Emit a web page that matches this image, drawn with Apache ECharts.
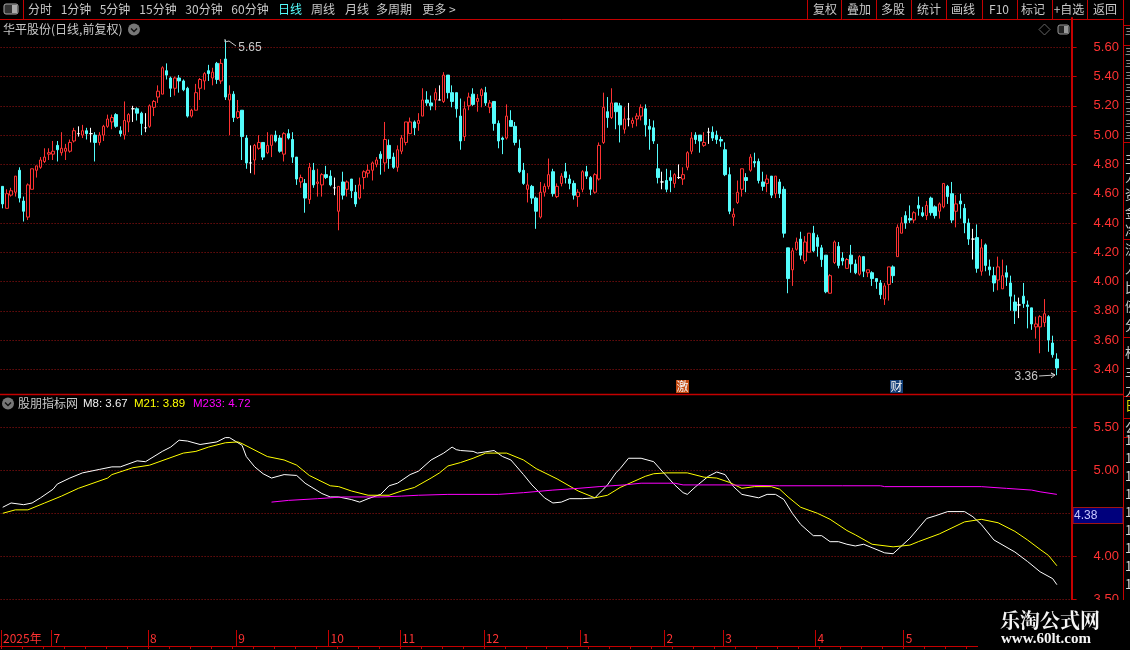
<!DOCTYPE html>
<html><head><meta charset="utf-8">
<style>html,body{margin:0;padding:0;background:#000}#c{width:1130px;height:650px}</style>
<script src="https://cdn.jsdelivr.net/npm/echarts@6/dist/echarts.min.js"></script>
</head><body><div id="c"></div>
<script>
const opens=[4.65,4.50,4.59,4.61,4.76,4.55,4.44,4.63,4.76,4.78,
4.82,4.87,4.87,4.93,4.88,4.89,4.89,4.96,5.01,5.00,
5.03,5.01,5.00,4.95,5.00,5.06,5.09,5.14,5.03,5.00,
5.09,5.18,5.18,5.15,5.05,5.06,5.19,5.26,5.28,5.44,
5.39,5.32,5.39,5.37,5.32,5.13,5.17,5.32,5.37,5.44,
5.39,5.49,5.37,5.52,5.24,5.28,5.12,5.17,4.98,4.81,
4.83,4.91,4.95,4.88,4.93,5.00,4.98,4.87,5.01,4.97,
4.85,4.68,4.67,4.56,4.76,4.67,4.66,4.73,4.72,4.64,
4.48,4.68,4.63,4.70,4.61,4.57,4.71,4.74,4.76,4.80,
4.87,4.81,4.93,4.85,4.78,4.89,4.95,5.01,5.09,5.08,
5.13,5.24,5.22,5.24,5.24,5.23,5.41,5.29,5.29,5.13,
4.99,5.20,5.28,5.23,5.27,5.29,5.19,5.23,5.08,4.98,
4.98,5.10,5.06,4.91,4.76,4.63,4.65,4.57,4.44,4.61,
4.65,4.75,4.58,4.67,4.75,4.70,4.67,4.58,4.63,4.75,
4.71,4.61,4.70,4.95,5.16,5.12,5.22,5.20,5.04,5.11,
5.08,5.11,5.13,5.18,5.06,5.05,4.77,4.68,4.69,4.71,
4.67,4.71,4.70,4.78,4.89,5.00,5.00,4.93,5.02,5.02,
5.00,4.97,4.90,4.73,4.44,4.54,4.63,4.71,4.76,4.82,
4.82,4.68,4.67,4.72,4.60,4.68,4.63,4.23,4.08,4.22,
4.29,4.14,4.20,4.33,4.30,4.23,4.18,3.92,4.13,4.24,
4.16,4.09,4.18,4.12,4.05,4.17,4.06,4.06,4.02,3.99,
3.88,3.98,4.10,4.17,4.33,4.45,4.43,4.42,4.52,4.47,
4.45,4.57,4.51,4.48,4.51,4.65,4.60,4.48,4.55,4.50,
4.40,4.29,4.30,4.07,4.25,4.10,4.04,4.01,3.95,4.06,
3.99,3.86,3.84,3.90,3.84,3.82,3.69,3.69,3.72,3.76,3.58,3.47];
const closes=[4.53,4.60,4.62,4.72,4.57,4.48,4.66,4.77,4.79,4.83,
4.85,4.88,4.89,4.90,4.91,4.91,4.95,5.03,5.01,5.03,
5.01,5.01,4.95,5.00,5.06,5.11,5.12,5.06,5.01,5.10,
5.14,5.18,5.15,5.08,5.05,5.20,5.23,5.30,5.46,5.41,
5.32,5.39,5.37,5.31,5.13,5.17,5.29,5.38,5.42,5.42,
5.43,5.38,5.49,5.26,5.28,5.12,5.16,4.99,4.81,4.81,
4.93,4.95,4.85,4.93,5.00,4.96,4.89,5.01,4.98,4.85,
4.70,4.71,4.57,4.78,4.66,4.68,4.73,4.71,4.66,4.64,
4.65,4.59,4.68,4.62,4.53,4.66,4.75,4.76,4.81,4.83,
4.84,4.97,4.84,4.78,4.90,4.98,5.09,5.09,5.05,5.10,
5.24,5.22,5.20,5.29,5.24,5.41,5.29,5.23,5.18,4.96,
5.18,5.26,5.21,5.25,5.31,5.22,5.22,5.08,4.96,4.97,
5.13,5.06,4.95,4.75,4.67,4.66,4.57,4.48,4.61,4.65,
4.73,4.60,4.65,4.72,4.71,4.67,4.59,4.61,4.75,4.72,
4.63,4.73,4.93,5.19,5.12,5.22,5.16,5.07,5.11,5.11,
5.10,5.13,5.19,5.07,5.04,4.96,4.71,4.68,4.63,4.69,
4.73,4.71,4.73,4.88,4.98,4.97,4.96,4.95,5.02,4.98,
4.97,4.96,4.73,4.48,4.46,4.61,4.77,4.69,4.85,4.81,
4.69,4.65,4.70,4.59,4.72,4.60,4.33,4.02,4.21,4.27,
4.18,4.27,4.33,4.21,4.24,4.15,3.93,4.04,4.27,4.11,
4.14,4.15,4.12,4.06,4.17,4.07,4.08,4.02,4.00,3.91,
3.97,4.10,4.04,4.37,4.40,4.40,4.42,4.47,4.50,4.45,
4.52,4.47,4.45,4.53,4.67,4.58,4.42,4.53,4.53,4.40,
4.29,4.29,4.09,4.23,4.11,4.08,3.99,4.10,4.04,4.03,
3.90,3.80,3.84,3.85,3.83,3.71,3.71,3.76,3.78,3.60,3.50,3.41];
const lows=[4.50,4.50,4.58,4.58,4.54,4.41,4.42,4.63,4.71,4.77,
4.81,4.83,4.83,4.82,4.86,4.83,4.88,4.95,4.99,4.98,
4.97,4.95,4.82,4.93,4.96,5.05,5.04,5.05,4.99,4.97,
5.02,5.09,5.10,5.00,5.02,5.05,5.13,5.22,5.28,5.38,
5.26,5.27,5.29,5.30,5.12,5.12,5.17,5.24,5.31,5.37,
5.34,5.35,5.35,5.24,5.00,5.09,5.11,4.83,4.77,4.74,
4.73,4.90,4.83,4.87,4.85,4.95,4.88,4.82,4.97,4.81,
4.66,4.64,4.47,4.53,4.64,4.58,4.58,4.70,4.65,4.59,
4.35,4.56,4.58,4.57,4.51,4.56,4.63,4.71,4.69,4.78,
4.73,4.75,4.77,4.77,4.75,4.87,4.93,5.01,5.00,5.03,
5.13,5.20,5.17,5.17,5.24,5.22,5.25,5.19,5.12,4.90,
4.96,5.17,5.20,5.16,5.19,5.20,5.15,5.03,4.91,4.87,
4.97,5.06,4.93,4.74,4.66,4.54,4.53,4.36,4.43,4.58,
4.63,4.58,4.57,4.65,4.67,4.63,4.56,4.51,4.61,4.70,
4.59,4.60,4.69,4.94,5.05,5.11,5.04,4.95,5.01,5.06,
5.05,5.06,5.10,4.99,4.90,4.94,4.67,4.63,4.61,4.61,
4.64,4.70,4.66,4.76,4.87,4.94,4.88,4.92,4.94,4.96,
4.94,4.92,4.72,4.46,4.38,4.53,4.58,4.61,4.75,4.78,
4.67,4.62,4.61,4.57,4.57,4.57,4.30,3.92,3.97,4.21,
4.15,4.12,4.20,4.20,4.17,4.10,3.92,3.92,4.12,4.09,
4.11,4.09,4.06,4.05,4.04,4.03,4.03,3.97,3.95,3.88,
3.84,3.87,3.99,4.17,4.33,4.36,4.40,4.40,4.45,4.44,
4.42,4.45,4.43,4.43,4.50,4.53,4.40,4.37,4.43,4.33,
4.25,4.15,4.06,4.04,4.07,4.04,3.93,3.94,3.95,3.97,
3.80,3.71,3.75,3.82,3.68,3.67,3.61,3.51,3.69,3.52,3.48,3.36];
const highs=[4.65,4.63,4.64,4.72,4.78,4.58,4.67,4.77,4.79,4.85,
4.91,4.91,4.96,4.96,5.02,4.94,4.97,5.05,5.06,5.07,
5.05,5.05,5.02,5.02,5.07,5.14,5.14,5.15,5.06,5.23,
5.15,5.20,5.19,5.16,5.15,5.21,5.24,5.34,5.47,5.49,
5.40,5.40,5.41,5.38,5.33,5.18,5.35,5.39,5.43,5.48,
5.46,5.50,5.52,5.65,5.34,5.30,5.24,5.17,5.00,4.93,
4.94,5.00,4.95,5.02,5.00,5.03,5.00,5.02,5.04,5.02,
4.85,4.73,4.70,4.81,4.81,4.77,4.74,4.79,4.76,4.71,
4.65,4.75,4.69,4.70,4.66,4.71,4.76,4.80,4.82,4.85,
4.89,5.09,4.97,4.88,4.93,5.00,5.09,5.12,5.10,5.15,
5.32,5.30,5.27,5.32,5.34,5.43,5.41,5.34,5.29,5.25,
5.23,5.29,5.32,5.28,5.32,5.33,5.24,5.23,5.10,4.99,
5.21,5.17,5.09,4.97,4.81,4.74,4.66,4.58,4.68,4.67,
4.84,4.77,4.67,4.74,4.81,4.73,4.69,4.63,4.76,4.79,
4.72,4.74,4.95,5.29,5.26,5.32,5.22,5.22,5.19,5.22,
5.12,5.15,5.21,5.21,5.11,5.10,4.94,4.75,4.77,4.76,
4.74,4.80,4.78,4.89,5.02,5.02,5.00,5.02,5.05,5.06,
5.03,4.99,4.95,4.78,4.50,4.69,4.77,4.74,4.87,4.88,
4.84,4.75,4.73,4.72,4.72,4.70,4.65,4.23,4.23,4.30,
4.34,4.31,4.33,4.38,4.32,4.25,4.18,4.05,4.28,4.27,
4.20,4.16,4.25,4.15,4.18,4.17,4.08,4.07,4.02,4.01,
3.99,4.10,4.11,4.39,4.44,4.48,4.52,4.48,4.58,4.51,
4.55,4.58,4.52,4.54,4.67,4.66,4.68,4.59,4.60,4.53,
4.43,4.36,4.39,4.29,4.26,4.15,4.10,4.17,4.15,4.11,
4.04,3.91,3.89,3.99,3.87,3.82,3.76,3.77,3.88,3.77,3.63,3.51];

const m8Index=[0,2,5,7,9,12,13,16,19,23,26,28,32,34,38,40,42,44,47,51,53,54,57,58,60,62,64,67,70,72,76,78,80,83,85,87,90,92,94,97,99,102,105,107,108,109,112,113,117,119,121,124,126,129,131,133,135,138,141,144,146,147,149,152,155,157,160,162,163,165,168,170,172,174,176,180,182,184,186,188,190,193,195,197,199,201,203,205,207,210,212,216,220,222,225,229,231,233,236,241,244,247,250,251];
const m8Values=[4.57,4.62,4.60,4.62,4.68,4.78,4.84,4.91,4.97,5.01,5.04,5.04,5.11,5.10,5.22,5.27,5.35,5.34,5.30,5.33,5.38,5.38,5.29,5.16,5.04,4.96,4.91,4.95,4.94,4.85,4.73,4.69,4.69,4.66,4.63,4.67,4.72,4.82,4.85,4.95,4.99,5.12,5.20,5.27,5.24,5.23,5.22,5.20,5.23,5.16,5.12,4.95,4.83,4.68,4.62,4.63,4.67,4.67,4.68,4.83,4.97,5.02,5.14,5.14,5.10,4.99,4.83,4.74,4.72,4.81,4.93,4.98,4.95,4.81,4.72,4.68,4.72,4.72,4.66,4.50,4.37,4.24,4.24,4.17,4.17,4.14,4.12,4.14,4.10,4.04,4.03,4.21,4.44,4.47,4.52,4.52,4.46,4.37,4.19,4.05,3.94,3.82,3.74,3.67];
const m21Index=[0,3,6,10,14,18,25,26,31,35,43,46,49,53,56,57,63,67,70,73,78,80,83,87,92,95,98,102,104,106,109,112,115,120,124,127,132,137,141,144,147,153,155,158,163,167,170,173,176,179,183,185,187,190,194,197,201,203,207,212,216,218,223,229,233,237,241,244,247,249,251];
const m21Values=[4.50,4.54,4.54,4.62,4.70,4.79,4.91,4.95,5.03,5.06,5.20,5.22,5.27,5.32,5.33,5.31,5.16,5.12,5.06,4.94,4.82,4.81,4.76,4.71,4.71,4.76,4.80,4.91,4.97,5.05,5.09,5.14,5.20,5.20,5.12,5.02,4.90,4.76,4.68,4.71,4.80,4.93,4.96,4.97,4.97,4.92,4.91,4.86,4.79,4.81,4.81,4.78,4.69,4.57,4.50,4.43,4.30,4.25,4.14,4.11,4.13,4.17,4.26,4.40,4.43,4.39,4.29,4.19,4.08,4.01,3.89];
const m233Index=[64,68,75,81,90,95,99,106,118,124,131,137,142,148,152,160,162,172,185,200,209,210,233,239,245,247,251];
const m233Values=[4.63,4.65,4.67,4.69,4.69,4.70,4.71,4.72,4.72,4.74,4.77,4.79,4.81,4.83,4.85,4.85,4.83,4.83,4.82,4.82,4.82,4.81,4.81,4.79,4.77,4.75,4.72];

const monthStarts=[0,12,35,56,78,95,115,138,158,172,194,215];
const monthLabels=['2025年','7','8','9','10','11','12','1','2','3','4','5'];
const priceTicks=[3.4,3.6,3.8,4.0,4.2,4.4,4.6,4.8,5.0,5.2,5.4,5.6];
const lowerTicks=[3.5,4.0,4.5,5.0,5.5];
const toolbarLeft=[['分时',40],['1分钟',76],['5分钟',115],['15分钟',158],['30分钟',204],['60分钟',250],['日线',290],['周线',323],['月线',357],['多周期',394],['更多 >',439]];
const toolbarRight=[['复权',825],['叠加',859],['多股',893],['统计',929],['画线',963],['F10',999],['标记',1033],['+自选',1069],['返回',1105]];
const toolbarSeps=[807,841,876,911,946,982,1017,1052,1087];
const sideRows=[158,176,194,212,230,249,268,287,306,325,352,371,390,440,458,476,494,512,530,548,566,584];
const sideMinorRows=[32,52,64,76,88,100,112,124,136];
const sideDividers=[25,45,142,239,337,396,418,437];

const totalBars=255;
const cats=Array.from({length:totalBars},(_,i)=>String(i));
const candle=opens.map((o,i)=>[o,closes[i],lows[i],highs[i]]);
const pairs=(ix,vs)=>ix.map((x,i)=>[x,vs[i]]);

const RED='#ff3232',AX='#c40000',GRID='#a01414',CY='#54fcfc',TXT='#c8c8c8';
const CJK='"Noto Sans CJK SC","Liberation Sans",sans-serif';
const ARIAL='"Liberation Sans",Arial,sans-serif';
const g=[];
const line=(x1,y1,x2,y2,c,w)=>g.push({type:'line',z:50,silent:true,shape:{x1,y1,x2,y2},style:{stroke:c||AX,lineWidth:w||1}});
const txt=(x,y,t,c,o)=>g.push({type:'text',z:60,silent:true,x,y,style:Object.assign({text:t,fill:c||TXT,font:'12px '+CJK,textVerticalAlign:'middle',textAlign:'center'},o||{})});

g.push({type:'rect',z:40,silent:true,shape:{x:0,y:600,width:1130,height:29.5},style:{fill:'#000'}});
g.push({type:'rect',z:55,silent:true,shape:{x:978,y:600,width:152,height:50},style:{fill:'#000'}});
txt(1050,620,'乐淘公式网','#f4f4f4',{font:'bold 20px "Noto Serif CJK SC","Noto Sans CJK SC"'});
txt(1046,639.5,'www.60lt.com','#f4f4f4',{font:'bold 15px "Liberation Serif",serif'});
line(0,646.5,978,646.5,AX,1);
line(0,19.5,1123,19.5,AX,1);
line(0,394.5,1123,394.5,AX,1.5);
line(23.5,0,23.5,19,AX,1);
line(1123.5,0,1123.5,600,AX,1);
sideDividers.forEach(y=>line(1123,y+.5,1130,y+.5,AX,1));
toolbarSeps.forEach(x=>line(x+.5,0,x+.5,19,AX,1));
toolbarLeft.forEach(([t,x])=>txt(x,9.5,t,t==='日线'?CY:TXT));
toolbarRight.forEach(([t,x])=>txt(x,9.5,t,TXT));
g.push({type:'rect',z:60,silent:true,shape:{x:4,y:4,width:14,height:10,r:2},style:{fill:'#333',stroke:'#aaa',lineWidth:1}});
g.push({type:'rect',z:61,silent:true,shape:{x:12,y:5,width:5,height:8},style:{fill:'#aaa'}});
g.push({type:'rect',z:60,silent:true,shape:{x:1058,y:25,width:11,height:9,r:2},style:{fill:'#222',stroke:'#999',lineWidth:1}});
g.push({type:'rect',z:61,silent:true,shape:{x:1064,y:26,width:4,height:7},style:{fill:'#999'}});
g.push({type:'polygon',z:60,silent:true,shape:{points:[[1044.5,24],[1050,29.5],[1044.5,35],[1039,29.5]]},style:{fill:'none',stroke:'#666',lineWidth:1}});
txt(3,29.5,'华平股份(日线,前复权)',TXT,{textAlign:'left'});
const chev=(x,y)=>{g.push({type:'circle',z:60,silent:true,shape:{cx:x,cy:y,r:6},style:{fill:'#777'}});
 g.push({type:'polyline',z:61,silent:true,shape:{points:[[x-3,y-1],[x,y+2],[x+3,y-1]]},style:{fill:'none',stroke:'#111',lineWidth:1.4}});};
chev(134,29.5);chev(8,403.5);
txt(18,403.5,'股朋指标网',TXT,{textAlign:'left'});
txt(83,403.5,'M8: 3.67','#f0f0f0',{textAlign:'left',font:'11.5px '+ARIAL});
txt(134,403.5,'M21: 3.89','#ffff00',{textAlign:'left',font:'11.5px '+ARIAL});
txt(193,403.5,'M233: 4.72','#ff00ff',{textAlign:'left',font:'11.5px '+ARIAL});
g.push({type:'rect',z:60,silent:true,shape:{x:676,y:380,width:13,height:13},style:{fill:'#c44a10'}});
txt(682.5,386.5,'激','#f4f4f4');
g.push({type:'rect',z:60,silent:true,shape:{x:890,y:380,width:13,height:13},style:{fill:'#123f78'}});
txt(896.5,386.5,'财','#f4f4f4');
g.push({type:'rect',z:60,silent:true,shape:{x:1073,y:507.5,width:50,height:16},style:{fill:'#00007c',stroke:'#a01414',lineWidth:1}});
txt(1074,516,'4.38','#c8c8ff',{textAlign:'left',font:'12px '+ARIAL});
g.push({type:'polyline',z:60,silent:true,shape:{points:[[225,39],[225,42],[229,41],[236,46]]},style:{fill:'none',stroke:'#c8c8c8',lineWidth:1}});
g.push({type:'polyline',z:60,silent:true,shape:{points:[[1039,376],[1055,375],[1051,373],[1055,375],[1051,378]]},style:{fill:'none',stroke:'#c8c8c8',lineWidth:1}});
sideMinorRows.forEach(y=>txt(1125,y,'三','#b0b0b0',{textAlign:'left',font:'9px '+CJK}));
sideRows.forEach((y,i)=>txt(1125,y,y>430?'1':'主力资金净流入比例分析'[i%11],y>430?'#d8d8d8':'#c8c8c8',{textAlign:'left',font:'13px '+CJK}));
txt(1125,405,'日','#dcdc00',{textAlign:'left',font:'13px '+CJK});
txt(1125,427,'公','#c8c8c8',{textAlign:'left',font:'13px '+CJK});

const option={
 backgroundColor:'#000',animation:false,
 grid:[
  {left:.6,width:1071,top:18,height:380.64},
  {left:.6,width:1071,top:384.3,height:215},
  {left:.6,width:1071,top:630,height:16}
 ],
 xAxis:[
  {gridIndex:0,type:'category',data:cats,show:false},
  {gridIndex:1,type:'category',data:cats,show:false},
  {gridIndex:2,type:'category',data:cats,position:'top',
   axisLine:{show:true,lineStyle:{color:AX,width:1}},
   axisTick:{show:true,inside:true,length:3,interval:i=>i%5===0,lineStyle:{color:AX}},
   splitLine:{show:true,interval:i=>monthStarts.includes(i),lineStyle:{color:AX,width:1}},
   axisLabel:{inside:true,margin:2,align:'left',verticalAlign:'top',color:RED,fontSize:12,fontFamily:CJK,
    interval:i=>monthStarts.includes(i),hideOverlap:false,
    formatter:(v,i)=>{const k=monthStarts.indexOf(i);return k<0?'':monthLabels[k];}}}
 ],
 yAxis:[
  {gridIndex:0,type:'value',position:'right',min:3.2,max:5.8,interval:.2,
   axisLine:{show:true,lineStyle:{color:AX,width:2}},
   axisTick:{show:true,length:5,customValues:priceTicks,lineStyle:{color:AX}},
   minorTick:{show:false},
   axisLabel:{color:RED,fontSize:13,fontFamily:ARIAL,margin:22,customValues:priceTicks,formatter:v=>v.toFixed(2)},
   splitLine:{show:true,lineStyle:{color:GRID,type:[1,2],width:1}}},
  {gridIndex:1,type:'value',position:'right',min:3.5,max:6,interval:.5,
   axisLine:{show:true,lineStyle:{color:AX,width:2}},
   axisTick:{show:true,length:5,customValues:lowerTicks,lineStyle:{color:AX}},
   axisLabel:{color:RED,fontSize:13,fontFamily:ARIAL,margin:22,customValues:lowerTicks,formatter:v=>v.toFixed(2)},
   splitLine:{show:true,lineStyle:{color:GRID,type:[1,2],width:1}}},
  {gridIndex:2,type:'value',min:0,max:1,show:false}
 ],
 series:[
  {type:'candlestick',xAxisIndex:0,yAxisIndex:0,data:candle,barWidth:3,clip:false,
   itemStyle:{color:'#000',color0:CY,borderColor:RED,borderColor0:CY,borderColorDoji:'#ffffff',borderWidth:1},
   markPoint:{symbol:'circle',symbolSize:0,silent:true,animation:false,
    data:[{coord:[53,5.65],label:{show:true,formatter:'5.65',color:TXT,fontSize:12,fontFamily:ARIAL,position:'right',offset:[8,8]}},
          {coord:[251,3.36],label:{show:true,formatter:'3.36',color:TXT,fontSize:12,fontFamily:ARIAL,position:'left',offset:[-14,1]}}]}},
  {type:'line',name:'M8',xAxisIndex:1,yAxisIndex:1,data:pairs(m8Index,m8Values),showSymbol:false,symbol:'none',lineStyle:{color:'#ffffff',width:1}},
  {type:'line',name:'M21',xAxisIndex:1,yAxisIndex:1,data:pairs(m21Index,m21Values),showSymbol:false,symbol:'none',lineStyle:{color:'#ffff00',width:1}},
  {type:'line',name:'M233',xAxisIndex:1,yAxisIndex:1,data:pairs(m233Index,m233Values),showSymbol:false,symbol:'none',lineStyle:{color:'#ff00ff',width:1}}
 ],
 graphic:{elements:g}
};
echarts.init(document.getElementById('c'),null,{renderer:'canvas'}).setOption(option);
</script></body></html>
